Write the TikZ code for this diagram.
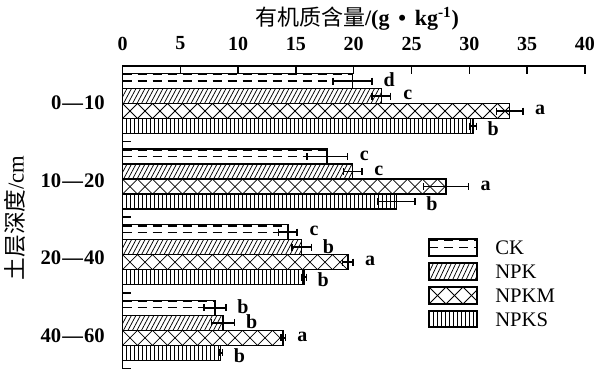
\documentclass[tikz,border=0pt]{standalone}
\usepackage{fontspec}
\setmainfont{Liberation Serif}
\newfontfamily\cjk{Noto Sans CJK SC}
\tikzset{
  axisline/.style={line width=1.1pt, line cap=rect},
  border/.style={line width=1.1pt},
  lgborder/.style={line width=1.5pt},
  patline/.style={line width=0.55pt},
  dashpat/.style={line width=1pt, dash pattern=on 6.75pt off 4.5pt},
  errline/.style={line width=1.1pt},
  sig/.style={font=\fontsize{15}{18}\selectfont\bfseries, inner sep=0pt},
  ticklab/.style={font=\fontsize{15}{18}\selectfont\bfseries, inner sep=0pt},
  grplab/.style={font=\fontsize{15.5}{18}\selectfont\bfseries, inner sep=0pt, anchor=east},
  lglab/.style={font=\fontsize{15.5}{18}\selectfont, inner sep=0pt, anchor=west},
}
% pattern painters (use \xa,\ya,\xb,\yb)
\newcommand\patCK{%
  \draw[dashpat] (\xa,\ya+1.2) -- (\xb,\ya+1.2);
  \draw[dashpat] (\xa,{(\ya+\yb)/2}) -- (\xb,{(\ya+\yb)/2});}
\newcommand\patNPK{%
  \pgfmathtruncatemacro\nn{(\xb-\xa)/4.5+3}
  \foreach \k in {0,...,\nn} {\draw[patline] ({\xa-8+4.5*\k},\yb) -- ++(8,{-(\yb-\ya)});}}
\newcommand\patNPKM{%
  \pgfmathsetmacro\hh{\yb-\ya}
  \pgfmathtruncatemacro\nn{(\xb-\xa)/\hh+2}
  \foreach \k in {0,...,\nn} {
    \draw[patline] ({\xa+\hh*\k},\ya) -- ++(\hh,\hh);
    \draw[patline] ({\xa+\hh*\k},\yb) -- ++(\hh,-\hh);}}
\newcommand\patNPKS{%
  \pgfmathtruncatemacro\nn{(\xb-\xa)/4+1}
  \foreach \k in {1,...,\nn} {\draw[patline] ({\xa+4*\k},\ya) -- ({\xa+4*\k},\yb);}}
\newcommand\patbox[6]{% x0,y0,x1,y1,type,borderstyle
  \pgfmathsetmacro\xa{#1}\pgfmathsetmacro\ya{#2}%
  \pgfmathsetmacro\xb{#3}\pgfmathsetmacro\yb{#4}%
  \begin{scope}
    \clip (\xa,\ya) rectangle (\xb,\yb);
    \csname pat#5\endcsname
  \end{scope}
  \draw[#6] (\xa,\ya) rectangle (\xb,\yb);}
% group, index, type, mean, err, label
\newcommand\databar[6]{%
  \pgfmathsetmacro\yt{73.5+75.6*#1+15*#2}%
  \pgfmathsetmacro\xe{122.5+11.56*#4}%
  \patbox{122.5}{\yt}{\xe}{\yt+15}{#3}{border}
  \pgfmathsetmacro\yc{\yt+7.5}%
  \pgfmathsetmacro\el{122.5+11.56*(#4-#5)}%
  \pgfmathsetmacro\er{122.5+11.56*(#4+#5)}%
  \draw[errline] (\el,\yc) -- (\er,\yc);
  \draw[errline] (\el,\yc-3.5) -- (\el,\yc+3.5);
  \draw[errline] (\er,\yc-3.5) -- (\er,\yc+3.5);
  \pgfmathsetmacro\ly{\yc+(#2==3)*3.5-1}%
  \node[sig] (L#1#2) at (\er+17,\ly) {#6};}
\begin{document}
\begin{tikzpicture}[x=0.75pt,y=-0.75pt]
\useasboundingbox (0,0) rectangle (596,368);
% title
\node[inner sep=0pt, font=\fontsize{16.5}{18}\selectfont] (xtitle) at (357,19)
  {{\cjk 有机质含量}\textbf{/(g\hspace{0.4em}•\hspace{0.4em}kg\textsuperscript{-1})}};
\node[inner sep=0pt, rotate=90, font=\fontsize{17}{18}\selectfont] (ytitle) at (15,218)
  {{\cjk 土层深度}/cm};
% tick labels
\foreach \v in {0,5,...,40} {
  \node[ticklab] (t\v) at ({122.5+11.56*\v},43.5) {\v};
  \draw[axisline] ({122.5+11.56*\v},66) -- ++(0,7);
}
\foreach \g in {1,2,3,4} {\draw[axisline] (122.5,{66+75.6*\g}) -- ++(8,0);}
% bars
\databar{0}{0}{CK}{19.9}{1.7}{d}
\databar{0}{1}{NPK}{22.4}{0.8}{c}
\databar{0}{2}{NPKM}{33.5}{1.15}{a}
\databar{0}{3}{NPKS}{30.3}{0.3}{b}
\databar{1}{0}{CK}{17.7}{1.75}{c}
\databar{1}{1}{NPK}{19.9}{0.8}{c}
\databar{1}{2}{NPKM}{28.0}{1.95}{a}
\databar{1}{3}{NPKS}{23.7}{1.6}{b}
\databar{2}{0}{CK}{14.3}{0.8}{c}
\databar{2}{1}{NPK}{15.5}{0.85}{b}
\databar{2}{2}{NPKM}{19.5}{0.45}{a}
\databar{2}{3}{NPKS}{15.7}{0.2}{b}
\databar{3}{0}{CK}{8.0}{0.95}{b}
\databar{3}{1}{NPK}{8.7}{1.0}{b}
\databar{3}{2}{NPKM}{13.9}{0.2}{a}
\databar{3}{3}{NPKS}{8.5}{0.15}{b}
% axes
\draw[axisline] (122.5,368) -- (122.5,66) -- (585,66);
% group labels
\node[grplab] (g1) at (105,103) {0\hspace{0.05em}—\hspace{0.05em}10};
\node[grplab] (g2) at (105,181) {10\hspace{0.05em}—\hspace{0.05em}20};
\node[grplab] (g3) at (105,258) {20\hspace{0.05em}—\hspace{0.05em}40};
\node[grplab] (g4) at (105,336) {40\hspace{0.05em}—\hspace{0.05em}60};
% legend
\patbox{429}{239}{477}{256}{CK}{lgborder}
\patbox{429}{263}{477}{280}{NPK}{lgborder}
\patbox{429}{287}{477}{304}{NPKM}{lgborder}
\patbox{429}{311}{477}{327}{NPKS}{lgborder}
\node[lglab] (lCK) at (495,248) {CK};
\node[lglab] (lNPK) at (495,272) {NPK};
\node[lglab] (lNPKM) at (495,296) {NPKM};
\node[lglab] (lNPKS) at (495,319.5) {NPKS};
\end{tikzpicture}
\end{document}
